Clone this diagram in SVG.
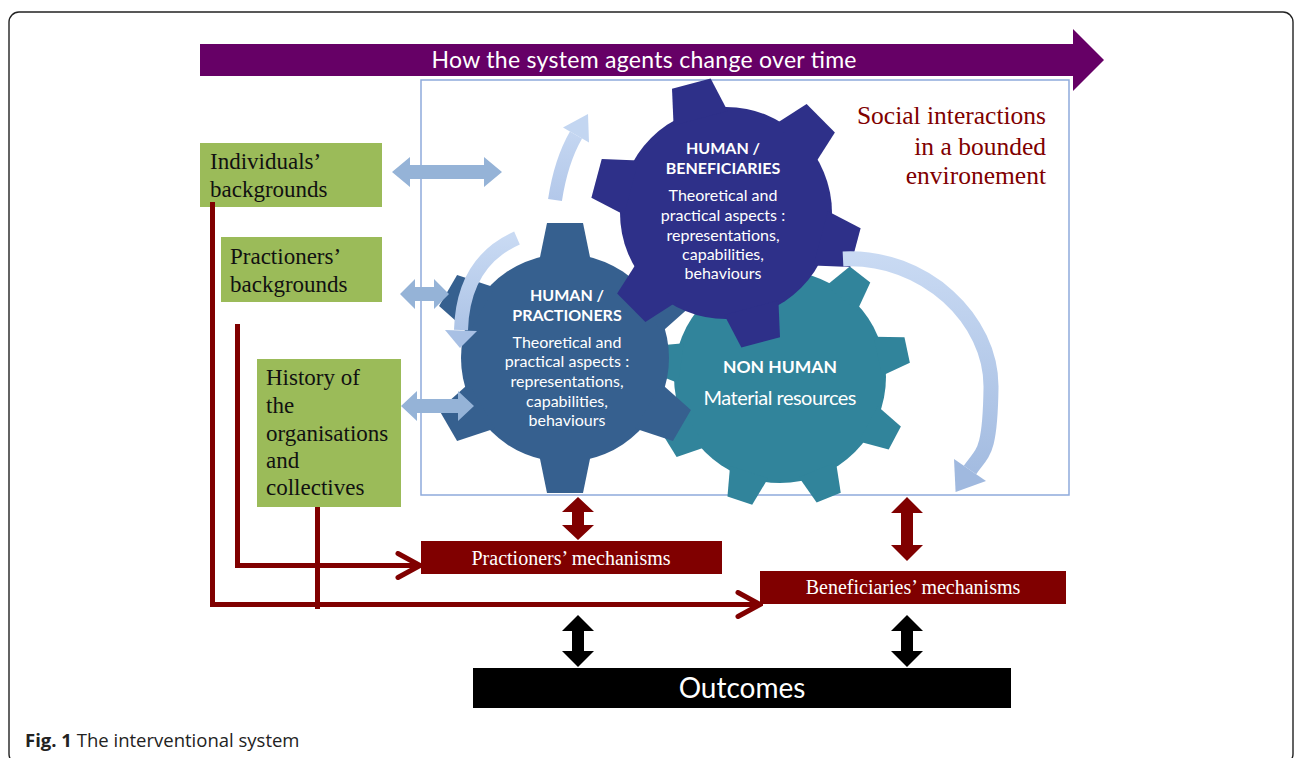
<svg xmlns="http://www.w3.org/2000/svg" width="1296" height="758" viewBox="0 0 1296 758">
<defs>
<style>
.sans{font-family:Lato,"Open Sans","Liberation Sans",sans-serif}
.serif{font-family:"Liberation Serif","Times New Roman",serif}
.gt{font-family:Lato,"Open Sans","Liberation Sans",sans-serif;fill:#fff;text-anchor:middle;font-size:16px}
.gb{font-weight:bold}
.green{fill:#9BBB59}
.gtext{font-family:"Liberation Serif","Times New Roman",serif;font-size:23px;fill:#111}
.lbarrow{fill:#95B3D7}
.maroon{fill:#800000}
.mtext{font-family:"Liberation Serif","Times New Roman",serif;font-size:20px;fill:#fff;text-anchor:middle}
.conn{fill:none;stroke:#800000;stroke-width:5}
</style>
<polygon id="toothP" points="96,-26 135,-18 135,18 96,26"/>
<polygon id="toothB" points="98,-28 134,-20 134,20 98,28"/>
<polygon id="toothN" points="100,-20 130,-13 130,13 100,20"/>
<linearGradient id="lg1" gradientUnits="userSpaceOnUse" x1="0" y1="200" x2="0" y2="113">
<stop offset="0" stop-color="#B3C8EA"/><stop offset="1" stop-color="#C9DAF3"/>
</linearGradient>
<linearGradient id="lg2" gradientUnits="userSpaceOnUse" x1="0" y1="236" x2="0" y2="347">
<stop offset="0" stop-color="#C9DAF3"/><stop offset="1" stop-color="#A8C0E4"/>
</linearGradient>
<linearGradient id="lg3" gradientUnits="userSpaceOnUse" x1="0" y1="255" x2="0" y2="492">
<stop offset="0" stop-color="#C9DAF3"/><stop offset="1" stop-color="#A0B9DF"/>
</linearGradient>
<marker id="chev" markerUnits="userSpaceOnUse" viewBox="0 0 30 30" refX="27" refY="15" markerWidth="30" markerHeight="30" orient="auto">
<path d="M5,3 L27,15 L5,27" fill="none" stroke="#800000" stroke-width="5" stroke-linecap="round"/>
</marker>
</defs>

<rect width="1296" height="758" fill="#fff"/>
<rect id="frame" x="9" y="12" width="1284" height="752" rx="10" fill="#fff" stroke="#222" stroke-width="1.4"/>

<g id="time-arrow">
<polygon points="200,44 1073,44 1073,29 1104,60 1073,91 1073,76 200,76" fill="#660066"/>
<text class="sans" x="644" y="68" font-size="23" fill="#fff" text-anchor="middle" textLength="425">How the system agents change over time</text>
</g>

<g id="environment">
<rect x="421" y="80" width="648" height="415" fill="#fff" stroke="#8EAADB" stroke-width="1.5"/>
<text class="serif" font-size="25.5" fill="#800000" text-anchor="end"><tspan x="1046" y="124">Social interactions</tspan><tspan x="1046" y="155">in a bounded</tspan><tspan x="1046" y="184">environement</tspan></text>
</g>

<g id="gear-nonhuman" fill="#31849B">
<circle cx="780" cy="377" r="106"/>
<g transform="translate(780 377)">
<use href="#toothN" transform="rotate(-52)"/>
<use href="#toothN" transform="rotate(-12)"/>
<use href="#toothN" transform="rotate(28)"/>
<use href="#toothN" transform="rotate(68)"/>
<use href="#toothN" transform="rotate(108)"/>
<use href="#toothN" transform="rotate(148)"/>
<use href="#toothN" transform="rotate(188)"/>
<use href="#toothN" transform="rotate(228)"/>
<use href="#toothN" transform="rotate(268)"/>
</g>
<text class="gt gb" x="780" y="373" style="font-size:17.5px">NON HUMAN</text>
<text class="gt" x="780" y="405" style="font-size:20px" textLength="153">Material resources</text>
</g>

<g id="gear-practioners" fill="#36608F">
<circle cx="565" cy="358" r="104"/>
<g transform="translate(565 358)">
<use href="#toothP" transform="rotate(-90)"/>
<use href="#toothP" transform="rotate(-30)"/>
<use href="#toothP" transform="rotate(30)"/>
<use href="#toothP" transform="rotate(90)"/>
<use href="#toothP" transform="rotate(150)"/>
<use href="#toothP" transform="rotate(210)"/>
</g>
<text class="gt gb" x="567" y="301">HUMAN /</text>
<text class="gt gb" x="567" y="321">PRACTIONERS</text>
<text class="gt" x="567" y="348">Theoretical and</text>
<text class="gt" x="567" y="367">practical aspects :</text>
<text class="gt" x="567" y="387">representations,</text>
<text class="gt" x="567" y="407">capabilities,</text>
<text class="gt" x="567" y="426">behaviours</text>
</g>

<g id="gear-beneficiaries" fill="#2E3089">
<circle cx="726" cy="213" r="106"/>
<g transform="translate(726 213)">
<use href="#toothB" transform="rotate(-105)"/>
<use href="#toothB" transform="rotate(-45)"/>
<use href="#toothB" transform="rotate(15)"/>
<use href="#toothB" transform="rotate(75)"/>
<use href="#toothB" transform="rotate(135)"/>
<use href="#toothB" transform="rotate(195)"/>
</g>
<text class="gt gb" x="723" y="154">HUMAN /</text>
<text class="gt gb" x="723" y="174">BENEFICIARIES</text>
<text class="gt" x="723" y="201">Theoretical and</text>
<text class="gt" x="723" y="221">practical aspects :</text>
<text class="gt" x="723" y="241">representations,</text>
<text class="gt" x="723" y="260">capabilities,</text>
<text class="gt" x="723" y="279">behaviours</text>
</g>

<g id="cycle-arrows">
<path d="M555,200 Q561,161 576,135" fill="none" stroke="url(#lg1)" stroke-width="14"/>
<polygon points="589,142.5 563,127.5 588,114" fill="#C3D6F1"/>
<path d="M517,238 Q463,262 461,330" fill="none" stroke="url(#lg2)" stroke-width="14"/>
<polygon points="445,330 477,331 460,348" fill="#A8C0E4"/>
<path d="M843,259 C925,255 992,320 991,388 S982,452 970,470" fill="none" stroke="url(#lg3)" stroke-width="15"/>
<polygon points="986,481 954,459 955.6,492" fill="#A0B9DF"/>
</g>

<g id="box-individuals">
<rect class="green" x="200" y="143" width="182" height="64"/>
<text class="gtext" x="210" y="169">Individuals’</text>
<text class="gtext" x="210" y="197">backgrounds</text>
</g>
<g id="box-practioners-bg">
<rect class="green" x="221" y="237" width="161" height="65"/>
<text class="gtext" x="230" y="264">Practioners’</text>
<text class="gtext" x="230" y="292">backgrounds</text>
</g>
<g id="box-history">
<rect class="green" x="257" y="359" width="144" height="148"/>
<text class="gtext" x="266" y="385">History of</text>
<text class="gtext" x="266" y="413">the</text>
<text class="gtext" x="266" y="441">organisations</text>
<text class="gtext" x="266" y="468">and</text>
<text class="gtext" x="266" y="495">collectives</text>
</g>

<g id="box-pmech">
<rect class="maroon" x="421" y="541" width="301" height="33"/>
<text class="mtext" x="571" y="565">Practioners’ mechanisms</text>
</g>
<g id="box-bmech">
<rect class="maroon" x="760" y="571" width="306" height="33"/>
<text class="mtext" x="913" y="594">Beneficiaries’ mechanisms</text>
</g>
<g id="box-outcomes">
<rect x="473" y="668" width="538" height="40" fill="#000"/>
<text class="sans" x="742" y="698" font-size="28" fill="#fff" text-anchor="middle">Outcomes</text>
</g>

<g id="connectors">
<polygon class="lbarrow" points="392,172 410,157 410,165 484,165 484,157 502,172 484,187 484,179 410,179 410,187"/>
<polygon class="lbarrow" points="400,294 415,279 415,287 434,287 434,279 449,294 434,309 434,301 415,301 415,309"/>
<polygon class="lbarrow" points="401,406 417,391 417,399 458,399 458,391 474,406 458,421 458,413 417,413 417,421"/>
<polygon class="maroon" points="578,497 594,512 584,512 584,525 594,525 578,540 562,525 572,525 572,512 562,512"/>
<polygon class="maroon" points="907,497 923,513 913,513 913,545 923,545 907,561 891,545 901,545 901,513 891,513"/>
<polygon fill="#000" points="578,615 594,631 584,631 584,651 594,651 578,667 562,651 572,651 572,631 562,631"/>
<polygon fill="#000" points="907,615 923,631 913,631 913,651 923,651 907,667 891,651 901,651 901,631 891,631"/>
<path class="conn" d="M212.5,202 V604.5 H760" marker-end="url(#chev)"/>
<path class="conn" d="M237.5,324 V565.5 H420" marker-end="url(#chev)"/>
<path class="conn" d="M317.5,507 V609"/>
</g>

<text x="25" y="747" font-family="'Open Sans','Noto Sans',sans-serif" font-size="18.5" fill="#222"><tspan font-weight="bold">Fig. 1</tspan> The interventional system</text>
</svg>
